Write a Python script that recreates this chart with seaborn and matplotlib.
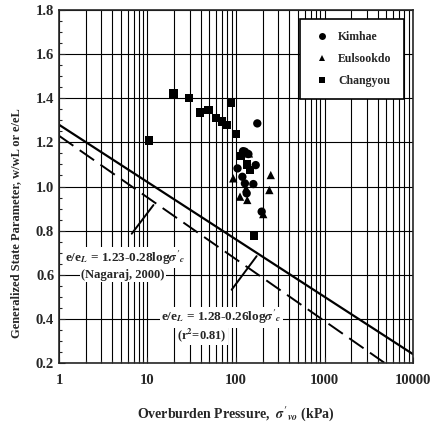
import numpy as np
import pandas as pd
import matplotlib
matplotlib.use('Agg')
import matplotlib.pyplot as plt
import seaborn as sns
from matplotlib.ticker import LogLocator, MultipleLocator, NullFormatter

# values
kimhae_p = [120, 126, 138, 167, 104, 118, 157, 126, 132, 174, 195]
kimhae_v = [1.16, 1.158, 1.147, 1.097, 1.082, 1.044, 1.011, 1.014, 0.969, 1.286, 0.886]
eulsook_p = [93, 130, 111, 134, 247, 238, 203, 140]
eulsook_v = [1.037, 0.992, 0.954, 0.939, 1.052, 0.984, 0.875, 1.15]
chang_p = [10.4, 19.6, 29.4, 39, 48.7, 59, 69, 78.5, 88, 100, 113, 134, 144, 161]
chang_v = [1.208, 1.422, 1.40, 1.336, 1.347, 1.309, 1.294, 1.279, 1.38, 1.238,
           1.138, 1.10, 1.075, 0.776]
sites = ['Kimhae', 'Eulsookdo', 'Changyou']

# fitted lines (end points)
fit_p = [1, 10000]
fit_v = [1.28, 0.24]
nag_p = [1, 4790]
nag_v = [1.23, 0.20]

df = pd.DataFrame({
    'p': kimhae_p + eulsook_p + chang_p,
    'v': kimhae_v + eulsook_v + chang_v,
    'site': [sites[0]] * len(kimhae_p) + [sites[1]] * len(eulsook_p) + [sites[2]] * len(chang_p),
})

sns.set_style('ticks')
plt.rcParams['font.family'] = ['Liberation Serif', 'DejaVu Serif']
plt.rcParams['font.weight'] = 'bold'
plt.rcParams['mathtext.fontset'] = 'stix'

fig = plt.figure(figsize=(4.36, 4.23), dpi=100)
ax = fig.add_axes([0.1353, 0.1418, 0.812, 0.8346])

ax.set_xscale('log')
ax.set_xlim(1, 10000)
ax.set_ylim(0.2, 1.8)

# grid
ax.xaxis.set_major_locator(LogLocator(base=10, numticks=10))
ax.xaxis.set_minor_locator(LogLocator(base=10, subs=np.arange(2, 10), numticks=20))
ax.xaxis.set_minor_formatter(NullFormatter())
ax.yaxis.set_major_locator(MultipleLocator(0.2))
ax.yaxis.set_minor_locator(MultipleLocator(0.05))
ax.grid(True, which='both', axis='x', color='black', lw=0.8)
ax.grid(True, which='major', axis='y', color='black', lw=0.8)
ax.set_axisbelow(True)

sns.lineplot(x=fit_p, y=fit_v, color='black', lw=1.6, ax=ax)
sns.lineplot(x=nag_p, y=nag_v, color='black', lw=1.4, ax=ax)
ax.lines[-1].set_dashes([9, 4])

sns.scatterplot(data=df, x='p', y='v', style='site', hue='site',
                palette=['black'] * 3, markers={'Kimhae': 'o', 'Eulsookdo': '^', 'Changyou': 's'},
                s=36, edgecolor='black', linewidth=0, ax=ax, zorder=5)

leg = ax.legend(loc='upper right', bbox_to_anchor=(0.99, 0.99), frameon=True, fancybox=False,
                edgecolor='black', framealpha=1, fontsize=8.5, borderpad=1.0,
                labelspacing=0.85, handletextpad=0.6, handlelength=1.6, title=None)
leg.get_frame().set_linewidth(1.2)
for h in leg.legend_handles:
    if hasattr(h, 'set_markersize'):
        h.set_markersize(5)
for t in leg.get_texts():
    t.set_fontweight('bold')

ax.set_xticks([1, 10, 100, 1000, 10000])
ax.set_xticklabels(['1', '10', '100', '1000', '10000'])
ax.tick_params(axis='both', which='both', direction='in', labelsize=10.5, width=0.8)
ax.tick_params(axis='both', which='major', length=4)
ax.tick_params(axis='both', which='minor', length=2)
ax.tick_params(axis='x', pad=8)
for lab in ax.get_xticklabels() + ax.get_yticklabels():
    lab.set_fontweight('bold')

for s in ax.spines.values():
    s.set_linewidth(1.2)

ax.set_xlabel("Overburden Pressure,  $\\sigma'_{vo}$ (kPa)", fontsize=10, fontweight='bold', labelpad=12)
ax.set_ylabel("Generalized State Parameter, w/wL or e/eL", fontsize=9, fontweight='bold')
ax.yaxis.set_label_coords(-0.105, 0.397)

# annotations
ax.text(5.6, 0.676, "e/e$_L$ = 1.23-0.28log$\\sigma'_c$", fontsize=9.5, fontweight='bold',
        ha='center', va='center', zorder=6,
        bbox=dict(facecolor='white', edgecolor='none', pad=1))
ax.text(5.3, 0.599, "(Nagaraj, 2000)", fontsize=9, fontweight='bold',
        ha='center', va='center', zorder=6,
        bbox=dict(facecolor='white', edgecolor='none', pad=1))
ax.annotate('', xy=(12.2, 0.926), xytext=(6.35, 0.776),
            arrowprops=dict(arrowstyle='-', color='black', lw=1.4))

ax.text(69, 0.408, "e/e$_L$ = 1.28-0.26log$\\sigma'_c$", fontsize=9.5, fontweight='bold',
        ha='center', va='center', zorder=6,
        bbox=dict(facecolor='white', edgecolor='none', pad=1))
ax.text(41, 0.327, "(r$^2$=0.81)", fontsize=9, fontweight='bold',
        ha='center', va='center', zorder=6,
        bbox=dict(facecolor='white', edgecolor='none', pad=1))
ax.annotate('', xy=(178.6, 0.6945), xytext=(85.5, 0.522),
            arrowprops=dict(arrowstyle='-', color='black', lw=1.4))

fig.savefig('out.png', dpi=100)
